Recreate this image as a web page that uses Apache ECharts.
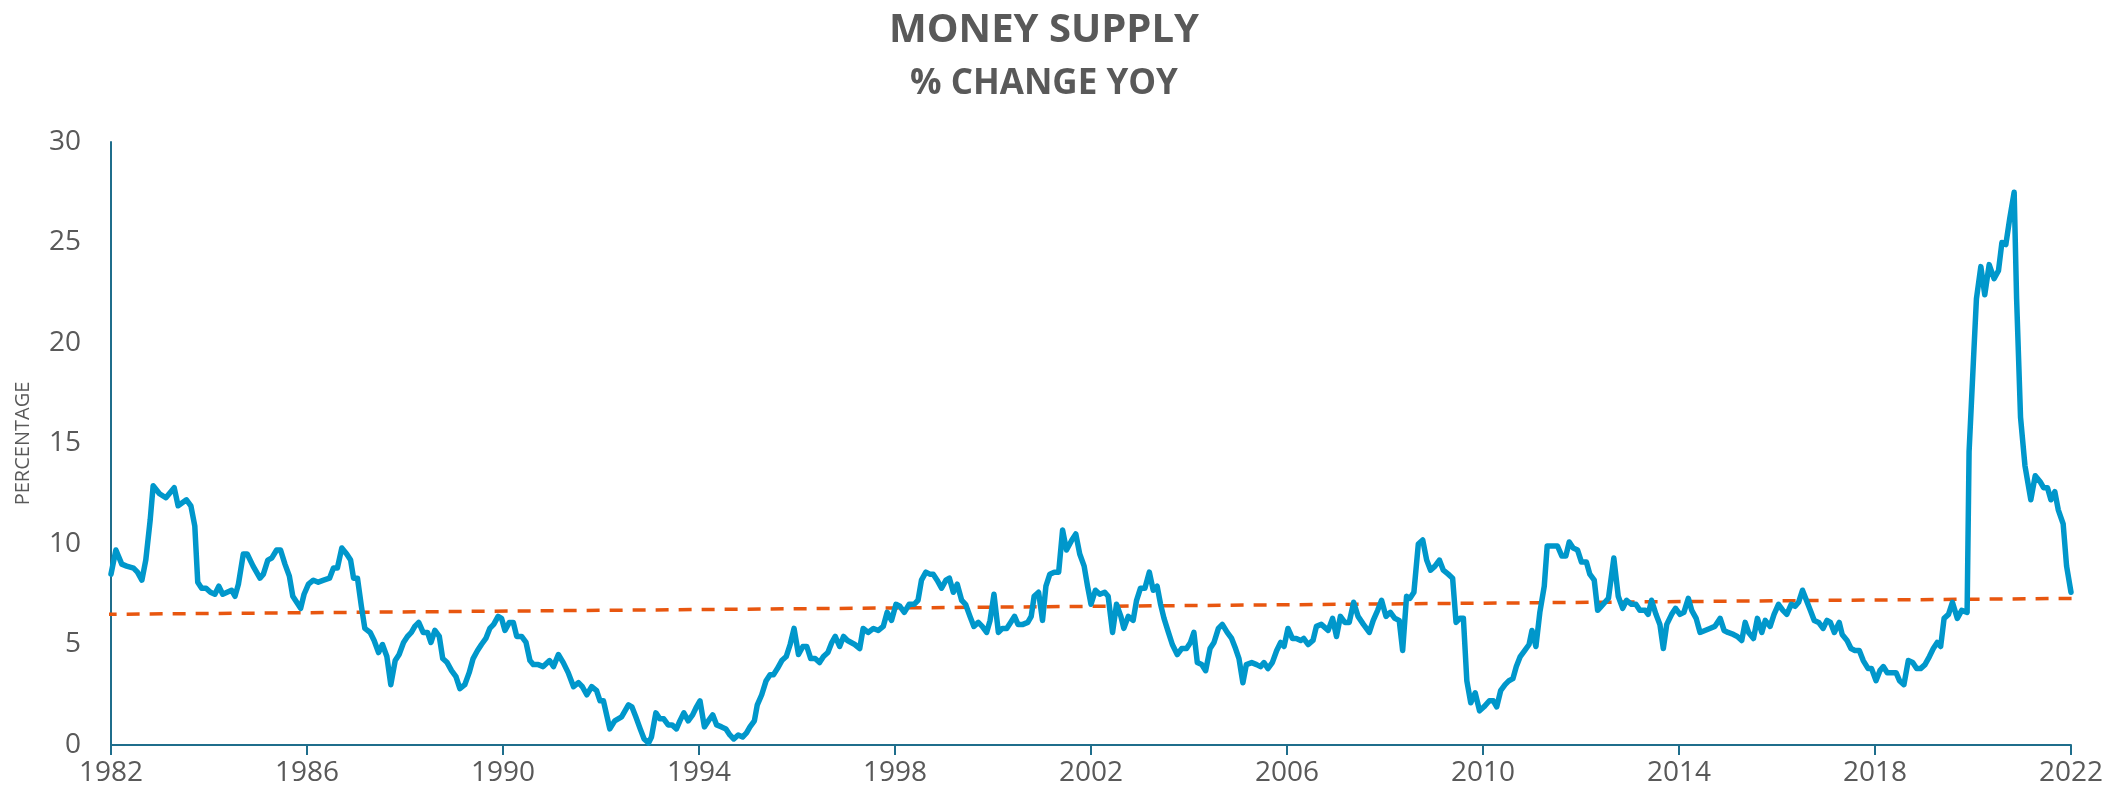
<!DOCTYPE html>
<html>
<head>
<meta charset="utf-8">
<title>Money Supply</title>
<script src="https://cdn.jsdelivr.net/npm/echarts@6/dist/echarts.min.js"></script>
<style>
  html, body { margin: 0; padding: 0; background: #fff; }
  #chart { width: 2122px; height: 804px; }
</style>
</head>
<body>
<div id="chart"></div>
<script>
// decimal years, with the YoY % change at each one
var years = [
  1982.00,1982.10,1982.22,1982.32,1982.46,1982.54,1982.63,1982.71,1982.80,1982.86,1982.99,
  1983.12,1983.29,1983.37,1983.54,1983.63,1983.71,1983.77,1983.85,1983.94,
  1984.03,1984.12,1984.20,1984.28,1984.37,1984.46,1984.53,1984.60,1984.70,1984.78,1984.90,
  1985.04,1985.11,1985.20,1985.28,1985.38,1985.46,1985.55,1985.64,1985.71,1985.79,1985.87,1985.94,
  1986.03,1986.13,1986.23,1986.34,1986.46,1986.54,1986.62,1986.71,1986.81,1986.89,1986.95,
  1987.03,1987.11,1987.18,1987.29,1987.37,1987.46,1987.54,1987.63,1987.71,1987.80,1987.88,1987.97,
  1988.05,1988.13,1988.20,1988.28,1988.37,1988.46,1988.53,1988.61,1988.70,1988.77,1988.86,1988.95,
  1989.04,1989.12,1989.22,1989.31,1989.39,1989.48,1989.56,1989.65,1989.73,1989.81,1989.90,1989.97,
  1990.04,1990.13,1990.21,1990.28,1990.38,1990.47,1990.55,1990.62,1990.72,1990.82,1990.95,
  1991.03,1991.13,1991.23,1991.33,1991.44,1991.54,1991.62,1991.71,1991.81,1991.91,1991.98,
  1992.05,1992.18,1992.28,1992.42,1992.49,1992.56,1992.63,1992.71,1992.80,1992.88,1992.97,
  1993.03,1993.12,1993.20,1993.28,1993.37,1993.45,1993.54,1993.61,1993.69,1993.78,1993.87,1993.95,
  1994.02,1994.11,1994.19,1994.28,1994.36,1994.46,1994.55,1994.63,1994.71,1994.80,1994.89,1994.97,
  1995.04,1995.13,1995.19,1995.28,1995.37,1995.45,1995.52,1995.60,1995.69,1995.78,1995.86,1995.94,
  1996.03,1996.12,1996.20,1996.28,1996.37,1996.46,1996.54,1996.63,1996.71,1996.78,1996.87,1996.95,
  1997.03,1997.18,1997.28,1997.35,1997.45,1997.56,1997.66,1997.76,1997.84,1997.93,
  1998.02,1998.10,1998.19,1998.29,1998.39,1998.47,1998.54,1998.63,1998.71,1998.78,1998.86,1998.95,
  1999.04,1999.11,1999.19,1999.27,1999.36,1999.44,1999.53,1999.61,1999.70,1999.78,1999.87,1999.94,
  2000.02,2000.11,2000.19,2000.28,2000.36,2000.44,2000.51,2000.61,2000.71,2000.78,2000.84,2000.93,
  2001.01,2001.08,2001.16,2001.25,2001.34,2001.42,2001.50,2001.61,2001.69,2001.77,2001.86,2001.93,
  2002.00,2002.09,2002.18,2002.28,2002.35,2002.44,2002.52,2002.61,2002.67,2002.76,2002.86,2002.93,
  2003.01,2003.10,2003.19,2003.27,2003.35,2003.42,2003.49,2003.58,2003.66,2003.76,2003.85,2003.95,
  2004.03,2004.10,2004.17,2004.26,2004.34,2004.43,2004.51,2004.60,2004.68,2004.78,2004.87,2004.95,
  2005.02,2005.10,2005.17,2005.28,2005.38,2005.46,2005.53,2005.61,2005.70,2005.79,2005.87,2005.94,
  2006.02,2006.11,2006.19,2006.28,2006.34,2006.43,2006.53,2006.60,2006.70,2006.84,2006.93,
  2007.01,2007.09,2007.18,2007.27,2007.36,2007.45,2007.56,2007.68,2007.76,2007.85,2007.93,
  2008.02,2008.11,2008.20,2008.29,2008.36,2008.44,2008.51,2008.59,2008.68,2008.77,2008.85,2008.93,
  2009.02,2009.11,2009.19,2009.29,2009.38,2009.45,2009.53,2009.60,2009.67,2009.75,2009.84,2009.93,
  2010.02,2010.13,2010.21,2010.28,2010.36,2010.45,2010.53,2010.61,2010.68,2010.76,2010.85,2010.94,
  2011.00,2011.08,2011.16,2011.25,2011.31,2011.42,2011.52,2011.61,2011.69,2011.76,2011.84,2011.93,
  2012.01,2012.11,2012.18,2012.27,2012.34,2012.45,2012.56,2012.67,2012.76,2012.85,2012.93,
  2013.03,2013.12,2013.20,2013.31,2013.37,2013.44,2013.53,2013.61,2013.68,2013.75,2013.85,2013.93,
  2014.02,2014.10,2014.19,2014.26,2014.35,2014.43,2014.53,2014.63,2014.73,2014.84,2014.92,
  2015.00,2015.11,2015.19,2015.28,2015.35,2015.42,2015.52,2015.60,2015.69,2015.76,2015.86,2015.94,
  2016.03,2016.12,2016.20,2016.29,2016.37,2016.44,2016.52,2016.60,2016.68,2016.76,2016.85,2016.94,
  2017.02,2017.09,2017.17,2017.27,2017.33,2017.43,2017.51,2017.59,2017.68,2017.76,2017.86,2017.93,
  2018.02,2018.10,2018.17,2018.25,2018.34,2018.43,2018.50,2018.59,2018.68,2018.77,2018.85,2018.93,
  2019.02,2019.11,2019.19,2019.27,2019.34,2019.41,2019.50,2019.58,2019.68,2019.77,2019.88,2019.92,
  2020.02,2020.07,2020.16,2020.24,2020.33,2020.43,2020.52,2020.59,2020.67,2020.75,2020.84,2020.89,2020.97,
  2021.06,2021.18,2021.27,2021.37,2021.44,2021.52,2021.59,2021.67,2021.74,2021.84,2021.91,2022.00
];
var growth = [
  8.5,9.7,9.0,8.9,8.8,8.6,8.2,9.2,11.2,12.9,12.5,
  12.3,12.8,11.9,12.2,11.9,10.9,8.1,7.8,7.8,
  7.6,7.5,7.9,7.5,7.6,7.7,7.4,8.0,9.5,9.5,8.9,
  8.3,8.5,9.2,9.3,9.7,9.7,9.0,8.4,7.4,7.1,6.8,7.5,
  8.0,8.2,8.1,8.2,8.3,8.8,8.8,9.8,9.5,9.2,8.3,
  8.3,6.9,5.8,5.6,5.2,4.6,5.0,4.4,3.0,4.2,4.5,5.1,
  5.4,5.6,5.9,6.1,5.6,5.6,5.1,5.7,5.4,4.3,4.1,3.7,
  3.4,2.8,3.0,3.6,4.3,4.7,5.0,5.3,5.8,6.0,6.4,6.3,
  5.7,6.1,6.1,5.4,5.4,5.1,4.2,4.0,4.0,3.9,4.2,
  3.9,4.5,4.1,3.6,2.9,3.1,2.9,2.5,2.9,2.7,2.2,
  2.2,0.8,1.2,1.4,1.7,2.0,1.9,1.4,0.8,0.3,0.1,
  0.4,1.6,1.3,1.3,1.0,1.0,0.8,1.2,1.6,1.2,1.5,1.9,
  2.2,0.9,1.2,1.5,1.0,0.9,0.8,0.5,0.3,0.5,0.4,0.6,
  0.9,1.2,2.0,2.5,3.2,3.5,3.5,3.8,4.2,4.4,5.0,5.8,
  4.5,4.9,4.9,4.3,4.3,4.1,4.4,4.6,5.1,5.4,4.9,5.4,
  5.2,5.0,4.8,5.8,5.6,5.8,5.7,5.9,6.6,6.2,
  7.0,6.9,6.6,7.0,7.0,7.2,8.2,8.6,8.5,8.5,8.2,7.8,
  8.2,8.3,7.6,8.0,7.2,7.0,6.4,5.9,6.1,5.9,5.6,6.2,
  7.5,5.6,5.8,5.8,6.1,6.4,6.0,6.0,6.1,6.4,7.4,7.6,
  6.2,7.9,8.5,8.6,8.6,10.7,9.7,10.2,10.5,9.5,8.9,7.9,
  7.0,7.7,7.5,7.6,7.4,5.6,7.0,6.4,5.8,6.4,6.2,7.2,
  7.8,7.8,8.6,7.7,7.9,7.0,6.3,5.6,5.0,4.5,4.8,4.8,
  5.1,5.6,4.1,4.0,3.7,4.8,5.1,5.8,6.0,5.6,5.3,4.8,
  4.3,3.1,4.0,4.1,4.0,3.9,4.1,3.8,4.1,4.7,5.1,4.9,
  5.8,5.3,5.3,5.2,5.3,5.0,5.2,5.9,6.0,5.7,6.3,
  5.4,6.4,6.1,6.1,7.1,6.4,6.0,5.6,6.2,6.7,7.2,
  6.4,6.6,6.3,6.2,4.7,7.4,7.3,7.6,10.0,10.2,9.2,8.7,
  8.9,9.2,8.7,8.5,8.3,6.1,6.3,6.3,3.2,2.1,2.6,1.7,
  1.9,2.2,2.2,1.9,2.7,3.0,3.2,3.3,3.9,4.4,4.7,5.0,
  5.7,4.9,6.6,7.9,9.9,9.9,9.9,9.4,9.4,10.1,9.8,9.7,
  9.1,9.1,8.5,8.2,6.7,7.0,7.3,9.3,7.4,6.8,7.2,
  7.0,7.0,6.7,6.7,6.5,7.2,6.5,6.0,4.8,6.0,6.5,6.8,
  6.5,6.6,7.3,6.7,6.3,5.6,5.7,5.8,5.9,6.3,5.7,
  5.6,5.5,5.4,5.2,6.1,5.6,5.3,6.3,5.6,6.2,5.9,6.5,
  7.0,6.7,6.5,7.0,6.9,7.1,7.7,7.2,6.7,6.2,6.1,5.8,
  6.2,6.1,5.6,6.1,5.5,5.2,4.8,4.7,4.7,4.2,3.8,3.8,
  3.2,3.7,3.9,3.6,3.6,3.6,3.2,3.0,4.2,4.1,3.8,3.8,
  4.0,4.4,4.8,5.1,4.9,6.3,6.5,7.1,6.3,6.7,6.6,14.6,
  19.7,22.2,23.8,22.4,23.9,23.2,23.6,25.0,24.9,26.2,27.5,22.2,16.3,
  13.9,12.2,13.4,13.1,12.8,12.8,12.2,12.6,11.7,11.0,8.9,7.6
];

// linear trend: its two ends as drawn (it runs a little past both axis ends)
var trendYears = [1981.85, 2022.35];
var trendValues = [6.5, 7.3];

var yTicks = [0, 5, 10, 15, 20, 25, 30];
var xTicks = [1982, 1986, 1990, 1994, 1998, 2002, 2006, 2010, 2014, 2018, 2022];

var lineData = years.map(function (y, i) { return [y, growth[i]]; });
var trendData = trendYears.map(function (y, i) { return [y, trendValues[i]]; });

var axisColor = '#1F6E8C';
var textColor = '#595959';
var font = '"Open Sans", "Liberation Sans", sans-serif';

var chart = echarts.init(document.getElementById('chart'));
chart.setOption({
  animation: false,
  backgroundColor: '#fff',
  title: [
    {
      text: 'MONEY SUPPLY',
      left: 1039, top: 6, textAlign: 'center',
      textStyle: { fontFamily: font, fontWeight: 'bold', fontSize: 40, color: textColor }
    },
    {
      text: '% CHANGE YOY',
      left: 1039, top: 62, textAlign: 'center',
      textStyle: { fontFamily: font, fontWeight: 'bold', fontSize: 35, color: textColor }
    }
  ],
  grid: { left: 111, right: 51, top: 142, bottom: 59, containLabel: false },
  xAxis: {
    type: 'value',
    min: xTicks[0],
    max: xTicks[xTicks.length - 1],
    interval: 4,
    splitLine: { show: false },
    axisLine: { show: true, lineStyle: { color: axisColor, width: 2 } },
    axisTick: { show: true, inside: false, length: 10, lineStyle: { color: axisColor, width: 2 } },
    axisLabel: {
      margin: 14, color: textColor, fontFamily: font, fontSize: 28,
      formatter: function (v) { return String(v); }
    }
  },
  yAxis: {
    type: 'value',
    min: yTicks[0],
    max: yTicks[yTicks.length - 1],
    interval: 5,
    name: 'PERCENTAGE',
    nameLocation: 'middle',
    nameGap: 78,
    nameTextStyle: { color: textColor, fontFamily: font, fontSize: 20 },
    splitLine: { show: false },
    axisLine: { show: true, lineStyle: { color: axisColor, width: 2 } },
    axisTick: { show: false },
    axisLabel: { margin: 30, color: textColor, fontFamily: font, fontSize: 28 }
  },
  series: [
    {
      name: 'Trend',
      type: 'line',
      data: trendData,
      clip: false,
      symbol: 'none',
      silent: true,
      z: 1,
      lineStyle: { color: '#E8560F', width: 3.5, type: [13, 10] }
    },
    {
      name: 'Money supply % change YoY',
      type: 'line',
      data: lineData,
      symbol: 'none',
      smooth: false,
      z: 2,
      lineStyle: { color: '#0097CB', width: 5.5, join: 'round', cap: 'round' }
    }
  ]
});
</script>
</body>
</html>
